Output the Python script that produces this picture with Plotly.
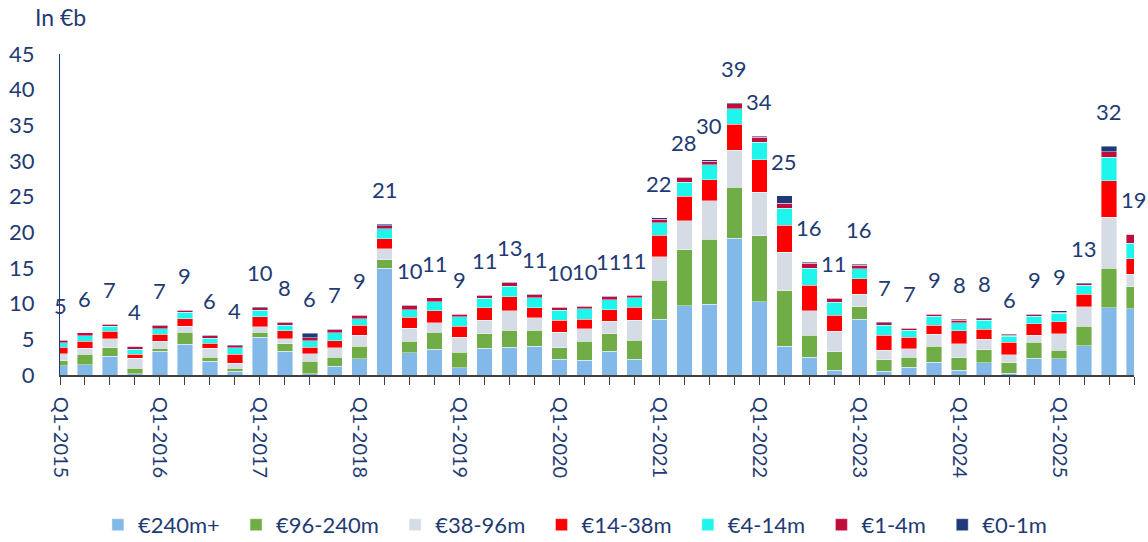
import plotly.graph_objects as go

years = [2015, 2016, 2017, 2018, 2019, 2020, 2021, 2022, 2023, 2024, 2025]
quarters = [f"Q{q}-{y}" for y in years for q in (1, 2, 3, 4)]

s_240 = [1.3, 1.45, 2.6, 0.2, 3.35, 4.3, 1.9, 0.5, 5.3, 3.3, 0.15, 1.2, 2.3, 15.0, 3.1, 3.6, 1.05, 3.75, 3.9, 4.05,
         2.2, 2.05, 3.35, 2.2, 7.8, 9.7, 9.9, 19.15, 10.3, 4.0, 2.5, 0.7, 7.8, 0.5, 1.1, 1.8, 0.7, 1.7, 0.25, 2.35,
         2.25, 4.1, 9.45, 9.3]
s_96 = [0.7, 1.45, 1.2, 0.75, 0.4, 1.7, 0.6, 0.45, 0.7, 1.05, 1.8, 1.3, 1.7, 1.15, 1.6, 2.4, 2.15, 2.0, 2.4, 2.25,
        1.6, 2.7, 2.4, 2.7, 5.45, 7.85, 9.1, 7.15, 9.2, 7.8, 3.1, 2.55, 1.8, 1.65, 1.4, 2.25, 1.7, 1.85, 1.45, 2.25,
        1.2, 2.7, 5.55, 3.1]
s_38 = [1.0, 0.85, 1.25, 1.4, 0.95, 0.8, 1.25, 0.7, 0.75, 0.7, 1.0, 1.3, 1.55, 1.55, 1.85, 1.35, 2.1, 1.95, 2.7, 1.75,
        2.2, 1.75, 1.8, 2.75, 3.3, 4.05, 5.4, 5.2, 6.1, 5.4, 3.4, 2.85, 1.7, 1.35, 1.15, 1.65, 1.95, 1.45, 1.15, 1.0,
        2.35, 2.8, 7.1, 1.75]
s_14 = [0.9, 0.95, 1.05, 0.55, 1.0, 1.1, 0.7, 1.25, 1.4, 1.15, 0.95, 1.0, 1.4, 1.4, 1.55, 1.65, 1.55, 1.7, 2.0, 1.35,
        1.7, 1.35, 1.6, 1.85, 3.05, 3.45, 2.95, 3.65, 4.55, 3.8, 3.6, 2.25, 2.2, 2.1, 1.65, 1.25, 1.85, 1.4, 1.75, 1.6,
        1.65, 1.7, 5.1, 2.15]
s_4 = [0.6, 0.8, 0.7, 0.7, 0.75, 0.9, 0.7, 0.9, 0.9, 0.8, 0.9, 1.1, 0.95, 1.4, 1.05, 1.3, 1.3, 1.35, 1.45, 1.45,
       1.35, 1.45, 1.4, 1.3, 1.75, 2.0, 2.15, 2.2, 2.45, 2.4, 2.4, 1.85, 1.4, 1.4, 0.95, 1.3, 1.15, 1.25, 0.8, 1.05,
       1.2, 1.25, 3.35, 2.2]
s_1 = [0.3, 0.4, 0.35, 0.4, 0.45, 0.3, 0.35, 0.3, 0.4, 0.35, 0.4, 0.45, 0.45, 0.4, 0.55, 0.5, 0.4, 0.45, 0.45, 0.4,
       0.45, 0.35, 0.45, 0.4, 0.5, 0.65, 0.5, 0.65, 0.7, 0.7, 0.7, 0.55, 0.5, 0.35, 0.3, 0.3, 0.35, 0.25, 0.2, 0.2,
       0.15, 0.25, 0.75, 1.2]
s_0 = [0.05, 0.05, 0.05, 0.05, 0.05, 0.05, 0.05, 0.15, 0.15, 0.05, 0.65, 0.05, 0.1, 0.2, 0.05, 0.05, 0.05, 0.05, 0.1, 0.05,
       0.05, 0.05, 0.05, 0.05, 0.2, 0.1, 0.15, 0.15, 0.2, 1.0, 0.1, 0.1, 0.1, 0.1, 0.1, 0.05, 0.1, 0.1, 0.1, 0.1,
       0.2, 0.15, 0.8, 0.0]

total_labels = [5, 6, 7, 4, 7, 9, 6, 4, 10, 8, 6, 7, 9, 21, 10, 11, 9, 11, 13, 11, 10, 10, 11, 11, 22, 28, 30, 39, 34,
                25, 16, 11, 16, 7, 7, 9, 8, 8, 6, 9, 9, 13, 32, 19]

series = [
    ("€240m+", s_240, "#83B9E8"),
    ("€96-240m", s_96, "#70AD47"),
    ("€38-96m", s_38, "#D6DCE5"),
    ("€14-38m", s_14, "#FF0000"),
    ("€4-14m", s_4, "#1EF5EC"),
    ("€1-4m", s_1, "#C00D3E"),
    ("€0-1m", s_0, "#1F3A7A"),
]

TXT = "#1F3B73"
FONT = "Lato"
PAD = "\u00a0\u00a0"

fig = go.Figure()
for name, vals, col in series:
    fig.add_trace(go.Bar(
        x=quarters, y=vals, name=name + PAD,
        marker=dict(color=col, line=dict(width=0.6, color="rgba(255,255,255,0.7)")),
    ))

totals = [sum(v) for v in zip(s_240, s_96, s_38, s_14, s_4, s_1, s_0)]
for q, t, lab in zip(quarters, totals, total_labels):
    fig.add_annotation(x=q, y=t, text=str(lab), showarrow=False, yanchor="bottom", yshift=19,
                       font=dict(size=22, color=TXT, family=FONT))

fig.add_annotation(xref="paper", yref="paper", x=0.0, y=1.0, yshift=37, text="In €b", showarrow=False,
                   xanchor="center", yanchor="middle", font=dict(size=23, color=TXT, family=FONT))

ticktext = [q if q.startswith("Q1") else "" for q in quarters]

fig.update_layout(
    width=1148, height=542,
    barmode="stack", bargap=0.38,
    plot_bgcolor="white", paper_bgcolor="white",
    margin=dict(l=60, r=14, t=54, b=167, autoexpand=False),
    font=dict(family=FONT, color=TXT, size=20),
    legend=dict(orientation="h", x=0.485, xanchor="center", y=-0.467, yanchor="middle",
                font=dict(size=22, color=TXT, family=FONT), traceorder="normal", itemwidth=30),
    xaxis=dict(type="category", range=[0, 43], tickmode="array", tickvals=quarters, ticktext=ticktext,
               tickangle=90, ticks="outside", ticklen=8, tickcolor="#404040", tickwidth=1.2, automargin=False,
               showline=True, linecolor="#404040", linewidth=1.5, showgrid=False, ticklabelstandoff=8,
               tickfont=dict(size=20, color=TXT, family=FONT)),
    yaxis=dict(range=[0, 45], tickvals=list(range(0, 46, 5)), showgrid=False, zeroline=False, automargin=False,
               showline=True, linecolor="#1F3A7A", linewidth=1.2, ticks="", ticklabelstandoff=20,
               tickfont=dict(size=22, color=TXT, family=FONT)),
)

fig.write_html("out.html", config={"displayModeBar": False},
               post_script="document.body.style.margin='0';document.body.style.overflow='hidden';")
